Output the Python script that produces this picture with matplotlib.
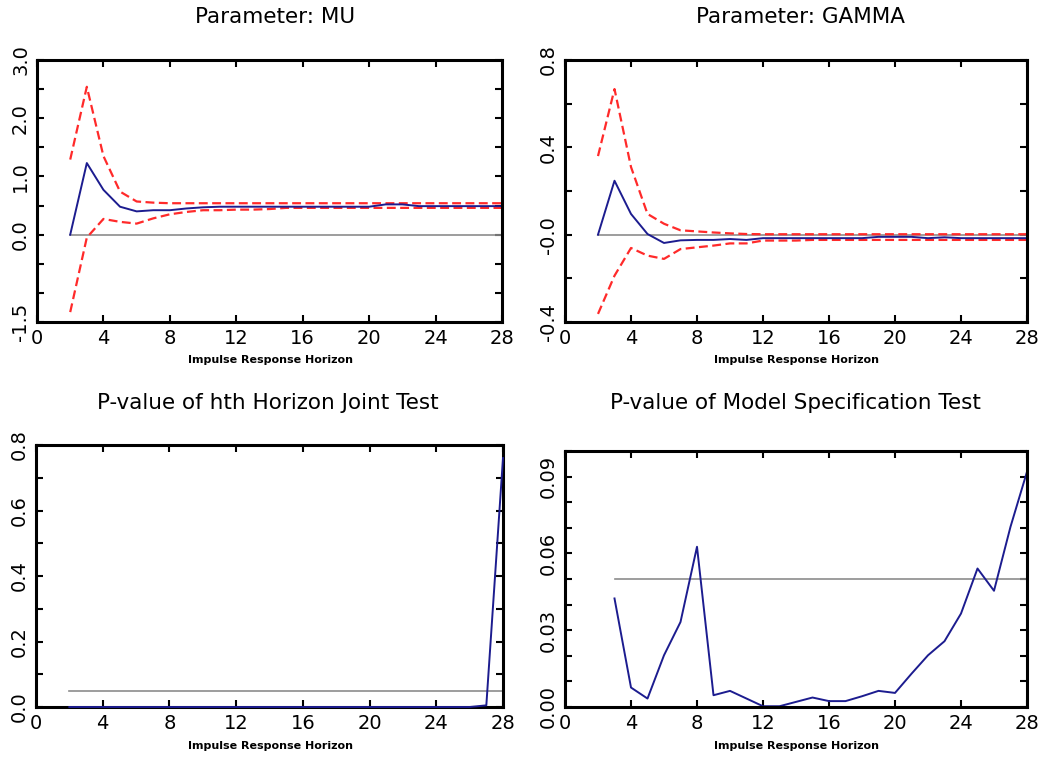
import numpy as np
import matplotlib
matplotlib.use('Agg')
import matplotlib.pyplot as plt

# horizontes
h_top = list(range(2, 29))
h_spec = list(range(3, 29))

# Parametro MU
mu = [0.0, 1.23, 0.77, 0.48, 0.40, 0.42, 0.42, 0.45, 0.47, 0.48, 0.48, 0.48, 0.48, 0.48,
      0.48, 0.48, 0.48, 0.48, 0.48, 0.52, 0.52, 0.49, 0.49, 0.49, 0.49, 0.49, 0.49]
mu_up = [1.29, 2.54, 1.35, 0.74, 0.57, 0.55, 0.54, 0.54, 0.54, 0.54, 0.54, 0.54, 0.54, 0.54,
         0.54, 0.54, 0.54, 0.54, 0.54, 0.54, 0.54, 0.54, 0.54, 0.54, 0.54, 0.54, 0.54]
mu_lo = [-1.33, -0.05, 0.27, 0.22, 0.19, 0.28, 0.35, 0.39, 0.42, 0.42, 0.43, 0.43, 0.44, 0.46,
         0.46, 0.46, 0.46, 0.46, 0.46, 0.46, 0.46, 0.46, 0.46, 0.46, 0.46, 0.46, 0.46]

# Parametro GAMMA
gamma = [0.0, 0.247, 0.095, 0.003, -0.038, -0.026, -0.024, -0.024, -0.020, -0.024, -0.016,
         -0.016, -0.016, -0.016, -0.016, -0.016, -0.016, -0.010, -0.010, -0.010, -0.016,
         -0.012, -0.016, -0.016, -0.016, -0.016, -0.016]
gamma_up = [0.36, 0.667, 0.31, 0.095, 0.05, 0.02, 0.015, 0.01, 0.006, 0.003, 0.002, 0.002,
            0.002, 0.002, 0.002, 0.002, 0.002, 0.002, 0.002, 0.002, 0.002, 0.002, 0.002,
            0.002, 0.002, 0.002, 0.002]
gamma_lo = [-0.363, -0.188, -0.061, -0.096, -0.111, -0.066, -0.058, -0.05, -0.04, -0.04,
            -0.027, -0.027, -0.027, -0.024, -0.024, -0.024, -0.024, -0.024, -0.024, -0.024,
            -0.024, -0.024, -0.024, -0.024, -0.024, -0.024, -0.024]

# P-valores
p_joint = [0.0] * 25 + [0.005, 0.76]
p_spec = [0.0424, 0.0076, 0.0033, 0.0202, 0.0332, 0.0626, 0.0046, 0.0063, 0.0033, 0.0003,
          0.0003, 0.0020, 0.0037, 0.0023, 0.0023, 0.0042, 0.0063, 0.0055, 0.0130, 0.0202,
          0.0257, 0.0365, 0.0541, 0.0454, 0.0704, 0.0919]

titles = ['Parameter: MU', 'Parameter: GAMMA',
          'P-value of hth Horizon Joint Test', 'P-value of Model Specification Test']
xlabel = 'Impulse Response Horizon'
x_ticks = [0, 4, 8, 12, 16, 20, 24, 28]

BLUE = '#1c1c8f'
RED = '#ff2a2a'
GRAY = '#8c8c8c'

W, H = 1049, 758
fig = plt.figure(figsize=(W / 100, H / 100), dpi=100)

def caja(l, t, r, b):
    return fig.add_axes([l / W, 1 - b / H, (r - l) / W, (b - t) / H])

def estilo(ax, yl, yticks, ylabels):
    ax.set_xlim(0, 28)
    ax.set_ylim(*yl)
    ax.set_xticks(x_ticks)
    ax.set_xticklabels([str(v) for v in x_ticks], fontsize=14)
    ax.set_yticks(yticks)
    ax.set_yticklabels(ylabels, fontsize=14, rotation=90, va='center')
    ax.tick_params(direction='in', length=5, width=1.5, top=True, right=True, pad=5)
    for s in ax.spines.values():
        s.set_linewidth(2.2)

ax1 = caja(37, 60, 502, 322)
ax1.plot([2, 28], [0, 0], color=GRAY, lw=1.2)
ax1.plot(h_top, mu_up, color=RED, ls=(0, (4, 2)), lw=1.6)
ax1.plot(h_top, mu_lo, color=RED, ls=(0, (4, 2)), lw=1.6)
ax1.plot(h_top, mu, color=BLUE, lw=1.4)
yt = np.arange(-1.5, 3.01, 0.5)
lab = {3.0: '3.0', 2.0: '2.0', 1.0: '1.0', 0.0: '0.0', -1.5: '-1.5'}
estilo(ax1, (-1.5, 3.0), yt, [lab.get(round(v, 1), '') for v in yt])

ax2 = caja(565, 60, 1027, 322)
ax2.plot([2, 28], [0, 0], color=GRAY, lw=1.2)
ax2.plot(h_top, gamma_up, color=RED, ls=(0, (4, 2)), lw=1.6)
ax2.plot(h_top, gamma_lo, color=RED, ls=(0, (4, 2)), lw=1.6)
ax2.plot(h_top, gamma, color=BLUE, lw=1.4)
yt = np.arange(-0.4, 0.81, 0.2)
lab = {0.8: '0.8', 0.4: '0.4', 0.0: '-0.0', -0.4: '-0.4'}
estilo(ax2, (-0.4, 0.8), yt, [lab.get(round(v, 1), '') for v in yt])

ax3 = caja(36, 445, 503, 707)
ax3.plot([2, 28], [0.05, 0.05], color=GRAY, lw=1.2)
ax3.plot(h_top, p_joint, color=BLUE, lw=1.4, clip_on=False, zorder=5)
yt = np.arange(0, 0.81, 0.1)
estilo(ax3, (0, 0.8), yt, [('%.1f' % v) if i % 2 == 0 else '' for i, v in enumerate(yt)])

ax4 = caja(565, 451, 1027, 707)
ax4.plot([3, 28], [0.05, 0.05], color=GRAY, lw=1.2)
ax4.plot(h_spec, p_spec, color=BLUE, lw=1.4)
yt = np.arange(0, 0.101, 0.01)
estilo(ax4, (0, 0.1), yt, [('%.2f' % v) if i % 3 == 0 else '' for i, v in enumerate(yt)])

# titulos y etiquetas
pos_t = [(275, 17), (800, 17), (268, 403), (795, 403)]
pos_x = [(270, 360), (796, 360), (270, 746), (796, 746)]
for t, (x, y) in zip(titles, pos_t):
    fig.text(x / W, 1 - y / H, t, ha='center', va='center', fontsize=15.5)
for (x, y) in pos_x:
    fig.text(x / W, 1 - y / H, xlabel, ha='center', va='center', fontsize=8, fontweight='bold')

fig.savefig('out.png', dpi=100, facecolor='white')
